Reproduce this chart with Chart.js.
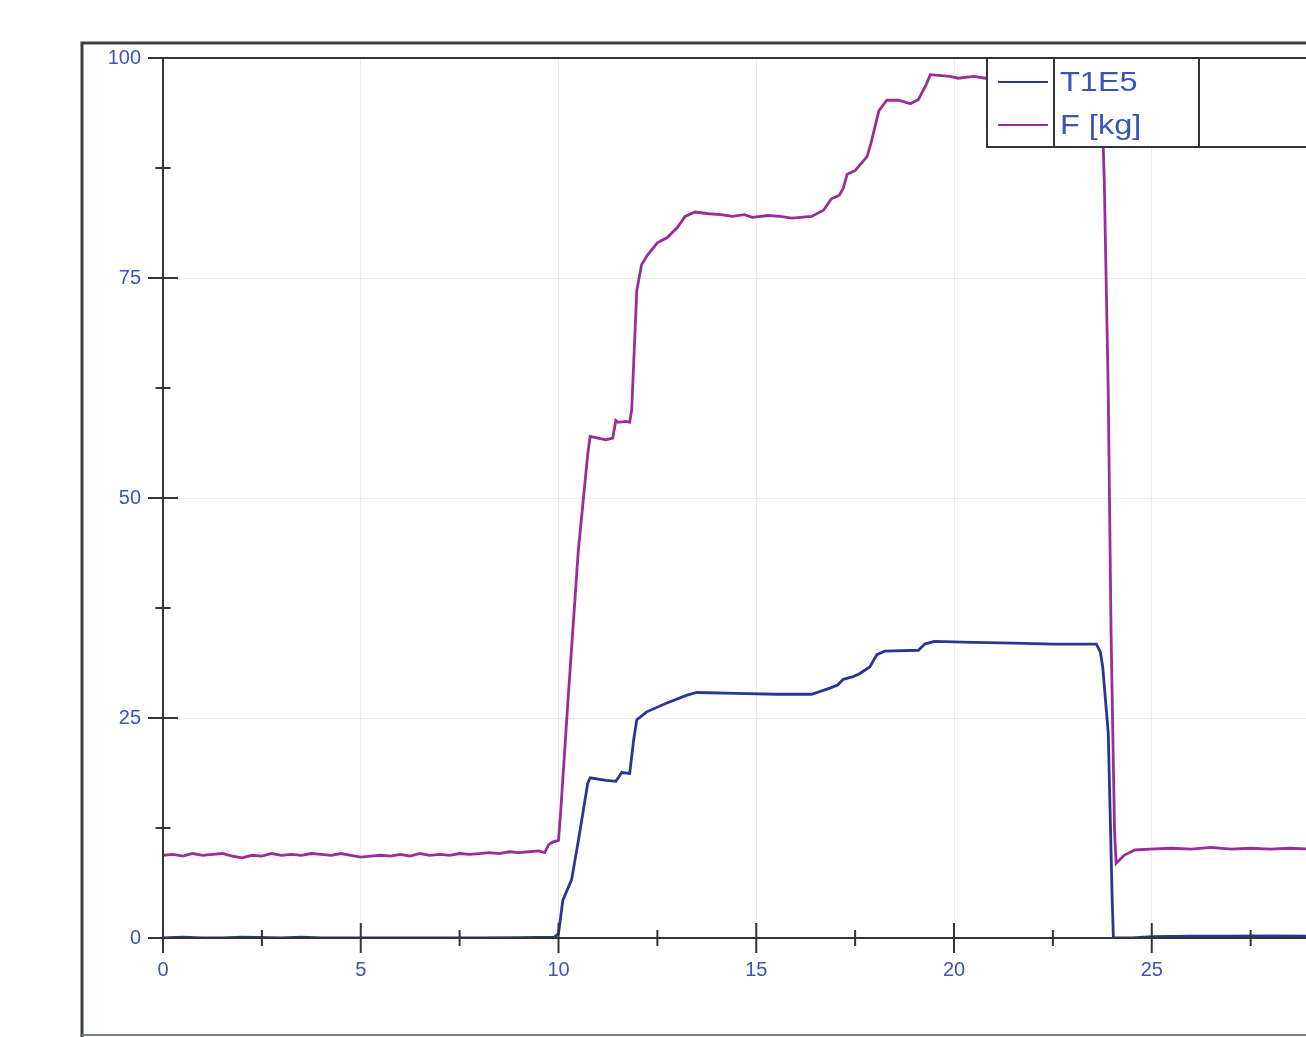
<!DOCTYPE html>
<html lang="en">
<head>
    <meta charset="UTF-8">
    <title>T1E5 / F [kg]</title>
    <script src="https://cdn.jsdelivr.net/npm/chart.js"></script>
    <style>
        body { margin: 0; background: #fff; }
    </style>
</head>
<body>
    <canvas id="forceChart" width="1306" height="1037"></canvas>
    <script>
        // time axis (s) and readings
        const fTime = [0, 0.25, 0.5, 0.75, 1, 1.25, 1.5, 1.75, 2, 2.25, 2.5, 2.75, 3, 3.25, 3.5, 3.75, 4, 4.25, 4.5, 4.75,
            5, 5.25, 5.5, 5.75, 6, 6.25, 6.5, 6.75, 7, 7.25, 7.5, 7.75, 8, 8.25, 8.5, 8.75, 9, 9.25, 9.5, 9.65, 9.75, 9.85, 10.0,
            10.05, 10.24, 10.5, 10.74, 10.8, 11.0, 11.2, 11.37, 11.45, 11.5, 11.7, 11.8, 11.85, 11.98, 12.1, 12.25, 12.5, 12.75,
            13.0, 13.2, 13.45, 13.8, 14.1, 14.4, 14.7, 14.9, 15.3, 15.6, 15.9, 16.4, 16.7, 16.9, 17.1, 17.2, 17.3, 17.5, 17.8,
            17.9, 18.1, 18.3, 18.6, 18.9, 19.1, 19.3, 19.4, 19.9, 20.1, 20.5, 20.8, 21.5, 22.2, 23.0, 23.72, 23.8, 23.9, 23.97,
            24.06, 24.1, 24.3, 24.57, 24.95, 25.5, 26, 26.5, 27, 27.5, 28, 28.5, 29];
        const fValues = [9.4, 9.5, 9.3, 9.6, 9.4, 9.5, 9.6, 9.3, 9.1, 9.4, 9.3, 9.6, 9.4, 9.5, 9.4, 9.6, 9.5, 9.4, 9.6, 9.4,
            9.2, 9.3, 9.4, 9.3, 9.5, 9.3, 9.6, 9.4, 9.5, 9.4, 9.6, 9.5, 9.6, 9.7, 9.6, 9.8, 9.7, 9.8, 9.9, 9.7, 10.6, 10.9, 11.1,
            14, 27, 44, 55, 57, 56.8, 56.6, 56.8, 58.8, 58.6, 58.7, 58.6, 60, 73.6, 76.5, 77.6, 79, 79.6,
            80.7, 82, 82.5, 82.3, 82.2, 82.0, 82.2, 81.9, 82.1, 82.0, 81.8, 82.0, 82.7, 84, 84.4, 85.2, 86.8, 87.2, 88.8,
            90.3, 94, 95.2, 95.2, 94.8, 95.3, 97, 98.1, 97.9, 97.7, 97.9, 97.7, 97.8, 97.9, 97.8, 97.8, 86, 62, 35,
            12, 8.5, 9.4, 10.0, 10.1, 10.2, 10.1, 10.3, 10.1, 10.2, 10.1, 10.2, 10.1];

        const tTime = [0, 0.5, 1, 1.5, 2, 3, 3.5, 4, 5, 6, 7, 8, 9, 9.9, 10.0, 10.11, 10.33, 10.5, 10.74, 10.8, 11.2, 11.45,
            11.6, 11.8, 11.9, 11.98, 12.23, 12.74, 13.25, 13.5, 14.5, 15.5, 16.4, 16.86, 17.06, 17.2, 17.45, 17.6, 17.87,
            18.05, 18.25, 19.1, 19.26, 19.5, 20.5, 21.5, 22.5, 23.6, 23.7, 23.76, 23.9, 23.94, 24.0, 24.03, 24.5, 25, 26, 27,
            28, 29];
        const tValues = [0, 0.1, 0, 0, 0.1, 0, 0.1, 0, 0, 0, 0, 0, 0.05, 0.1, 0.5, 4.3, 6.6, 11, 17.6, 18.2, 17.9, 17.8,
            18.8, 18.7, 22.5, 24.8, 25.7, 26.7, 27.6, 27.9, 27.8, 27.7, 27.7, 28.4, 28.75, 29.4, 29.7, 30, 30.8,
            32.2, 32.6, 32.7, 33.4, 33.7, 33.6, 33.5, 33.4, 33.4, 32.5, 30.8, 23.3, 15.7, 4.3, 0, 0, 0.15, 0.2, 0.2,
            0.25, 0.2];

        const seriesNames = ['T1E5', 'F [kg]'];
        const seriesColors = ['#2b3690', '#9a2e98'];
        const xTickStep = 5;
        const yTickStep = 25;

        const labelColor = '#3b54b6';
        const axisColor = '#2f3636';

        function toPoints(xs, ys) {
            return xs.map((x, i) => ({ x: x, y: ys[i] }));
        }

        // frame, axis lines, crossing ticks and the table legend
        const framePlugin = {
            id: 'frame',
            afterDatasetsDraw(chart) {
                const ctx = chart.ctx;
                const xs = chart.scales.x;
                const ys = chart.scales.y;
                const area = chart.chartArea;
                ctx.save();
                ctx.strokeStyle = axisColor;
                ctx.lineWidth = 2;
                ctx.beginPath();
                // top border and axes
                ctx.moveTo(148, area.top); ctx.lineTo(chart.width, area.top);
                ctx.moveTo(area.left, area.top); ctx.lineTo(area.left, area.bottom);
                ctx.moveTo(area.left, area.bottom); ctx.lineTo(chart.width, area.bottom);
                // y ticks
                for (let v = 0; v <= 100; v += 12.5) {
                    const py = ys.getPixelForValue(v);
                    const major = v % 25 === 0;
                    const len = major ? 15 : 7.5;
                    ctx.moveTo(area.left - len, py);
                    ctx.lineTo((v === 0 || v === 100) ? area.left : area.left + len, py);
                }
                // x ticks
                for (let t = 0; t <= xs.max; t += 2.5) {
                    const px = xs.getPixelForValue(t);
                    const major = t % 5 === 0;
                    const len = major ? 15 : 8;
                    ctx.moveTo(px, t === 0 ? area.bottom : area.bottom - len);
                    ctx.lineTo(px, area.bottom + len);
                }
                ctx.stroke();
                ctx.restore();
            },
            afterDraw(chart) {
                const ctx = chart.ctx;
                ctx.save();
                // outer frame
                ctx.strokeStyle = '#394040';
                ctx.lineWidth = 3;
                ctx.beginPath();
                ctx.moveTo(82, chart.height); ctx.lineTo(82, 43); ctx.lineTo(chart.width, 43);
                ctx.stroke();
                ctx.strokeStyle = '#7a7f7f';
                ctx.lineWidth = 2;
                ctx.beginPath();
                ctx.moveTo(82, 1035); ctx.lineTo(chart.width, 1035);
                ctx.stroke();

                // legend table
                const lx = 987, ly = 58, lh = 89;
                ctx.fillStyle = '#fff';
                ctx.fillRect(lx, ly, chart.width - lx, lh);
                ctx.strokeStyle = '#2f3434';
                ctx.lineWidth = 2;
                ctx.beginPath();
                ctx.moveTo(chart.width + 2, ly); ctx.lineTo(lx, ly); ctx.lineTo(lx, ly + lh); ctx.lineTo(chart.width + 2, ly + lh);
                ctx.moveTo(1054, ly); ctx.lineTo(1054, ly + lh);
                ctx.moveTo(1199, ly); ctx.lineTo(1199, ly + lh);
                ctx.stroke();
                const rows = [82, 125];
                chart.data.datasets.forEach((ds, i) => {
                    ctx.strokeStyle = ds.borderColor;
                    ctx.lineWidth = 2;
                    ctx.beginPath();
                    ctx.moveTo(998, rows[i]); ctx.lineTo(1048, rows[i]);
                    ctx.stroke();
                    ctx.save();
                    ctx.translate(1060, rows[i] + 1);
                    ctx.scale(1.16, 1);
                    ctx.fillStyle = labelColor;
                    ctx.font = '28px "Liberation Sans", Arial, sans-serif';
                    ctx.textBaseline = 'middle';
                    ctx.fillText(ds.label, 0, 0);
                    ctx.restore();
                });
                ctx.restore();
            }
        };

        const ctx = document.getElementById('forceChart').getContext('2d');
        new Chart(ctx, {
            type: 'line',
            data: {
                datasets: [
                    {
                        label: seriesNames[0],
                        data: toPoints(tTime, tValues),
                        borderColor: seriesColors[0],
                        borderWidth: 2.8,
                        pointRadius: 0,
                        fill: false
                    },
                    {
                        label: seriesNames[1],
                        data: toPoints(fTime, fValues),
                        borderColor: seriesColors[1],
                        borderWidth: 2.8,
                        pointRadius: 0,
                        fill: false
                    }
                ]
            },
            options: {
                responsive: false,
                animation: false,
                layout: { padding: { top: 58, left: 0, right: 0, bottom: 0 } },
                plugins: {
                    legend: { display: false },
                    tooltip: { enabled: false }
                },
                scales: {
                    x: {
                        type: 'linear',
                        min: 0,
                        max: 28.9,
                        afterFit(scale) { scale.height = 99; },
                        border: { display: false },
                        grid: { color: '#ececec', lineWidth: 1, drawTicks: false },
                        ticks: {
                            stepSize: xTickStep,
                            includeBounds: false,
                            padding: 20,
                            color: labelColor,
                            font: { family: '"Liberation Sans", Arial, sans-serif', size: 20 }
                        }
                    },
                    y: {
                        min: 0,
                        max: 100,
                        afterFit(scale) { scale.width = 163; },
                        border: { display: false },
                        grid: { color: '#ececec', lineWidth: 1, drawTicks: false },
                        ticks: {
                            stepSize: yTickStep,
                            padding: 22,
                            color: labelColor,
                            font: { family: '"Liberation Sans", Arial, sans-serif', size: 20 }
                        }
                    }
                }
            },
            plugins: [framePlugin]
        });
    </script>
</body>
</html>
